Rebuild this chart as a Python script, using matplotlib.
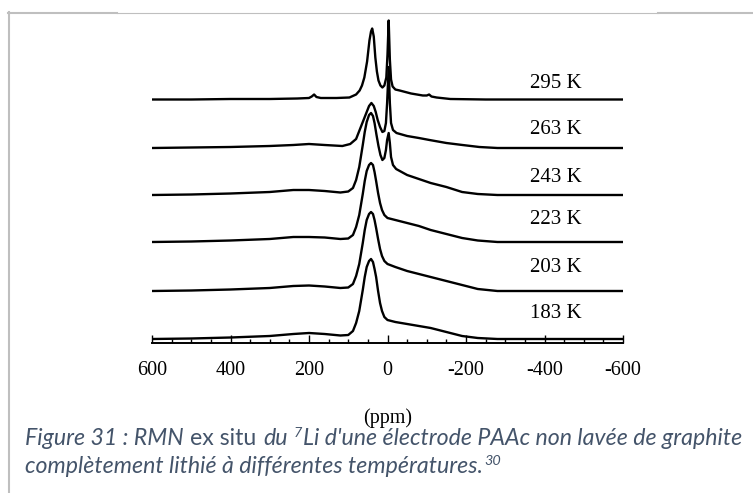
import matplotlib
matplotlib.use("Agg")
import matplotlib.pyplot as plt
from matplotlib.lines import Line2D
from matplotlib.ticker import MultipleLocator

# spectres RMN 7Li (ppm, intensite en unites arbitraires)
temps = ["295 K", "263 K", "243 K", "223 K", "203 K", "183 K"]
offsets = [243.5, 195, 148, 101, 52, 4]
label_y = [260, 213, 166, 123, 75, 30]
label_x = -430

ppm_295 = [600, 500, 400, 300, 230, 200, 193, 187, 181, 170, 130, 97, 80, 71, 65, 59, 52, 46, 42, 39,
           35, 31, 27, 23, 18, 13, 8, 3, 0, -3, -6, -9, -13, -20, -31, -60, -90, -100, -106, -112,
           -125, -160, -250, -400, -600]
int_295 = [0, 0, 0.5, 0.5, 1, 1.5, 3, 5, 2.5, 1.5, 1.5, 2, 5, 9, 14, 22, 38, 59, 68, 71,
           63, 42, 28, 19, 14, 12, 14, 22, 45, 79, 40, 20, 13, 10, 9, 6, 4, 4, 5, 3,
           2, 0.5, 0, 0, 0]

ppm_263 = [600, 500, 400, 300, 240, 200, 160, 115, 95, 80, 71, 62, 54, 47, 41, 35, 30, 25, 19, 13,
           8, 4, 1, -3, -6, -9, -14, -23, -50, -80, -107, -150, -191, -234, -280, -400, -600]
int_263 = [0, 0.5, 1, 2, 3, 4, 3, 2, 4, 9, 18, 27, 35, 42, 45, 42, 36, 28, 21, 16,
           17, 25, 45, 81, 45, 25, 18, 15, 12, 10, 8, 5, 3, 1, 0, 0, 0]

ppm_243 = [600, 500, 400, 300, 240, 200, 160, 120, 100, 88, 80, 72, 63, 58, 53, 47, 42, 37, 33, 28,
           23, 18, 13, 8, 4, 1, -3, -6, -9, -14, -22, -50, -80, -110, -150, -190, -230, -280, -400, -600]
int_243 = [0, 0.5, 1.5, 3, 5, 5, 4, 2.5, 3.5, 7, 15, 28, 50, 63, 73, 80, 82, 79, 72, 60,
           49, 40, 35, 37, 45, 55, 62, 52, 38, 30, 26, 20, 16, 12, 8, 3, 1, 0, 0, 0]

ppm_low = [600, 500, 400, 300, 240, 200, 160, 120, 100, 88, 80, 72, 63, 58, 53, 47, 42, 37, 33, 29,
           24, 19, 14, 8, 0, -20, -50, -80, -110, -150, -190, -230, -280, -400, -600]
int_223 = [0, 0.5, 1.5, 3, 5, 5, 4.5, 3, 3.5, 7, 15, 27, 48, 61, 71, 77, 79, 77, 70, 61,
           49, 39, 32, 27, 24, 22, 19, 16, 12, 8, 4, 1.5, 0, 0, 0]
int_203 = [0, 0.5, 1.5, 3, 5, 5.5, 4.5, 3, 3.5, 7, 15, 27, 48, 61, 71, 77, 79, 77, 71, 63,
           52, 42, 35, 30, 27, 24, 20, 17, 14, 10, 6, 2, 0, 0, 0]
int_183 = [0, 0.5, 1.5, 3, 5, 6, 5, 3.5, 4, 8, 16, 28, 49, 62, 72, 78, 80, 77, 70, 62,
           48, 36, 28, 22, 19, 17, 15, 13, 11, 7, 3, 1, 0, 0, 0]

xs = [ppm_295, ppm_263, ppm_243, ppm_low, ppm_low, ppm_low]
ys = [int_295, int_263, int_243, int_223, int_203, int_183]

tick_pos = [600, 400, 200, 0, -200, -400, -600]
tick_lab = ["600", "400", "200", "0", "-200", "-400", "-600"]

W, H = 753, 493
serif = "Liberation Serif"
fig = plt.figure(figsize=(W / 100, H / 100), dpi=100)
ax = fig.add_axes([152 / W, 150 / H, 471 / W, 331 / H])

for x, y, off in zip(xs, ys, offsets):
    ax.plot(x, [v + off for v in y], color="black", lw=1.7, solid_joinstyle="round")

for t, ly in zip(temps, label_y):
    ax.text(label_x, ly, t, ha="center", va="center", fontsize=15, family=serif)

ax.set_xlim(600, -600)
ax.set_ylim(0, 331)
for s in ["left", "right", "top"]:
    ax.spines[s].set_visible(False)
ax.spines["bottom"].set_linewidth(1.4)
ax.set_yticks([])
ax.set_xticks(tick_pos)
ax.set_xticklabels(tick_lab, family=serif, fontsize=14.5)
ax.xaxis.set_minor_locator(MultipleLocator(50))
ax.tick_params(axis="x", which="major", direction="in", length=6, width=1, pad=13)
ax.tick_params(axis="x", which="minor", direction="in", length=3, width=1)
ax.set_xlabel("(ppm)", family=serif, fontsize=14.5, labelpad=20)

# cadre gris du document
grey = "#bfbfbf"
fig.add_artist(Line2D([8 / W, 117 / W], [1 - 12.5 / H] * 2, color=grey, lw=1.5))
fig.add_artist(Line2D([117 / W, 658 / W], [1 - 12.5 / H] * 2, color=grey, lw=0.8))
fig.add_artist(Line2D([658 / W, 1], [1 - 12.5 / H] * 2, color=grey, lw=1.5))
fig.add_artist(Line2D([9 / W, 9 / W], [0, 1 - 12 / H], color=grey, lw=1.5))

# legende de la figure, en plusieurs morceaux (italique / droit / exposant)
cap_font = "Lato"
cap_col = "#44546a"
cap_size = 16.7
renderer = fig.canvas.get_renderer()

def space_w(style, size):
    a = fig.text(0, 0, "a a", fontsize=size, style=style, family=cap_font)
    b = fig.text(0, 0, "aa", fontsize=size, style=style, family=cap_font)
    w = a.get_window_extent(renderer).width - b.get_window_extent(renderer).width
    a.remove()
    b.remove()
    return w

def put_runs(runs, x0, y0):
    x = x0
    for s, style, sup, gap in runs:
        size = cap_size * 0.62 if sup else cap_size
        dy = cap_size * 0.5 if sup else 0
        t = fig.text(x / W, (y0 + dy) / H, s, fontsize=size, style=style, family=cap_font,
                     color=cap_col, ha="left", va="baseline")
        x = t.get_window_extent(renderer).x1 + 1
        if gap:
            x += space_w(style, cap_size)

line1 = [("Figure 31 : RMN", "italic", False, True),
         ("ex situ", "normal", False, True),
         ("du", "italic", False, True),
         ("7", "italic", True, False),
         ("Li d'une électrode PAAc non lavée de graphite", "italic", False, False)]
line2 = [("complètement lithié à différentes températures.", "italic", False, False),
         ("30", "italic", True, False)]
put_runs(line1, 25, H - 445)
put_runs(line2, 25, H - 473)

fig.savefig("out.png", dpi=100)
